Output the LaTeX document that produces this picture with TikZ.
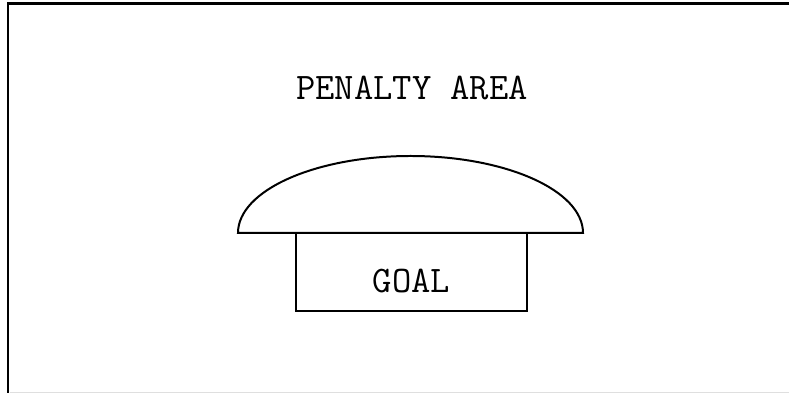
\documentclass[tikz,border=0pt]{standalone}
\usetikzlibrary{positioning}

\begin{document}
\begin{tikzpicture}[
    edge/.style={draw,line width=2.2pt},
    lbl/.style={font=\ttfamily\fontsize{32}{35}\selectfont,inner sep=0pt},
    goalbox/.style={rectangle,draw,line width=1.7pt,minimum width=6.92cm,minimum height=2.33cm,inner sep=0pt},
    dome/.style={draw,line width=1.7pt},
]

\useasboundingbox (0,0) rectangle (23.67,11.79);

% =====================================================
% field border
% =====================================================

\coordinate (fbl) at (0.24,0);
\coordinate (ftl) at (0.24,11.685);
\coordinate (ftr) at (23.67,11.685);

\draw[edge] (fbl) -- (ftl) -- (ftr);
\draw[gray!25,line width=0.6pt] (0.3,0.02) -- (23.67,0.02);

% =====================================================
% penalty area and goal
% =====================================================

\node[lbl] (area) at (12.36,9.15) {PENALTY AREA};

\coordinate (arcL) at (7.14,4.8);
\draw[dome]
    (arcL)
    arc[start angle=180,end angle=0,x radius=5.175cm,y radius=2.31cm]
    -- cycle;

\node[goalbox] (goal) at (12.34,3.635) {};
\node[lbl] (goaltxt) at ([yshift=-0.27cm]goal.center) {GOAL};

\end{tikzpicture}
\end{document}
